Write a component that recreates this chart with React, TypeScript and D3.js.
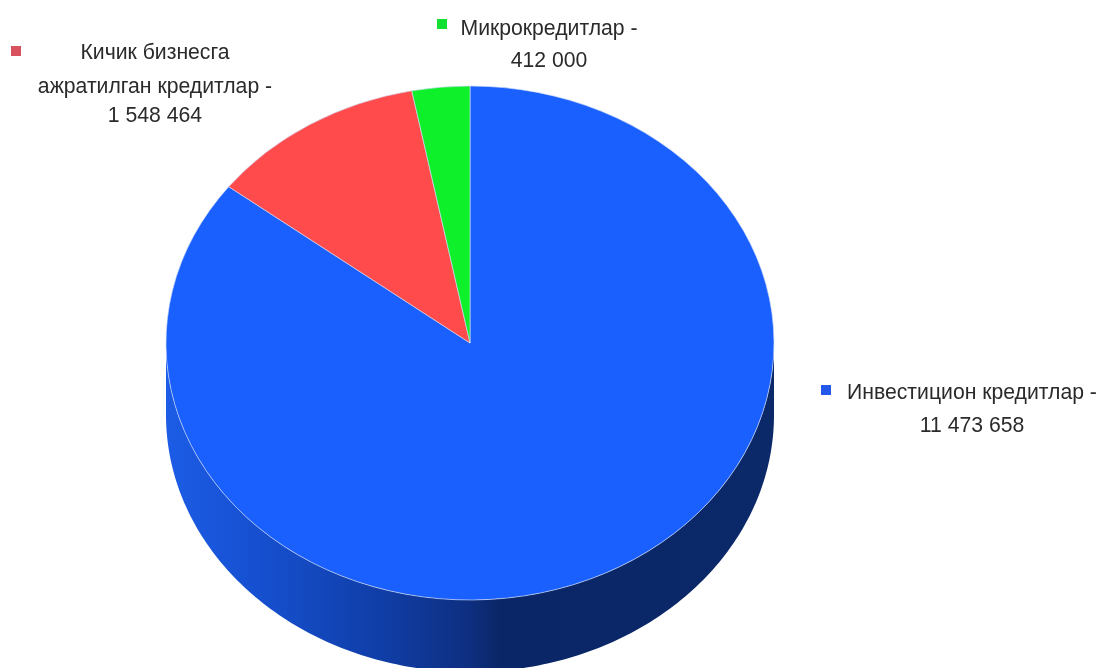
import React from "react";
import * as d3 from "d3";

const categories = ["Инвестицион кредитлар", "Кичик бизнесга ажратилган кредитлар", "Микрокредитлар"];
const values = [11473658, 1548464, 412000];
const colors = ["#1a60ff", "#ff4b4b", "#0df02a"];
const markerColors = ["#2458e8", "#d9505f", "#12e030"];
const labelLines = [
  ["Инвестицион кредитлар -", "11 473 658"],
  ["Кичик бизнесга", "ажратилган кредитлар -", "1 548 464"],
  ["Микрокредитлар -", "412 000"],
];
const labelCenters = [972, 155, 549];
const labelBaselines = [[399, 432], [59, 93, 122], [35, 67]];
const markerPos = [[821, 385], [11, 46], [437, 19]];

const W = 1098, H = 668, cx = 470, cy = 343, rx = 304, ry = 257, depth = 72;

export default function App() {
  const pie = d3.pie<number>().sort(null).startAngle(0).endAngle(2 * Math.PI);
  const arcs = pie(values);
  const arc = d3.arc<d3.PieArcDatum<number>>().innerRadius(0).outerRadius(rx);
  const angles = d3.range(0, Math.PI + 0.001, Math.PI / 180);
  const side = d3.area<number>()
    .x(a => cx + rx * Math.cos(a))
    .y0(a => cy + ry * Math.sin(a))
    .y1(a => Math.min(H + 2, cy + depth + ry * Math.sin(a)));
  return (
    <svg width={W} height={H} style={{ position: "absolute", left: 0, top: 0, background: "#fff" }}>
      <defs>
        <linearGradient id="side" gradientUnits="userSpaceOnUse" x1={cx - rx} x2={cx + rx} y1="0" y2="0">
          <stop offset="0" stopColor="#1c5ce6" />
          <stop offset="0.15" stopColor="#1650d0" />
          <stop offset="0.35" stopColor="#103ea8" />
          <stop offset="0.5" stopColor="#0e2f80" />
          <stop offset="0.55" stopColor="#0a2666" />
          <stop offset="1" stopColor="#0b2868" />
        </linearGradient>
        <filter id="soft" x="-5%" y="-20%" width="110%" height="140%">
          <feGaussianBlur stdDeviation="0.55" />
        </filter>
      </defs>
      <path d={side(angles) ?? ""} fill="url(#side)" />
      <g transform={`translate(${cx},${cy}) scale(1,${ry / rx})`}>
        {arcs.map((d, i) => (
          <path key={categories[i]} d={arc(d) ?? ""} fill={colors[i]} stroke="#cfdcf5" strokeWidth={0.7} />
        ))}
      </g>
      {categories.map((c, i) => (
        <g key={c}>
          <rect x={markerPos[i][0]} y={markerPos[i][1]} width={10} height={10} fill={markerColors[i]} />
          <text filter="url(#soft)" fontFamily="'Liberation Sans', Arial, sans-serif" fontSize={21.2} fill="#2a2a2a" textAnchor="middle">
            {labelLines[i].map((l, j) => (
              <tspan key={j} x={labelCenters[i]} y={labelBaselines[i][j]}>{l}</tspan>
            ))}
          </text>
        </g>
      ))}
    </svg>
  );
}
